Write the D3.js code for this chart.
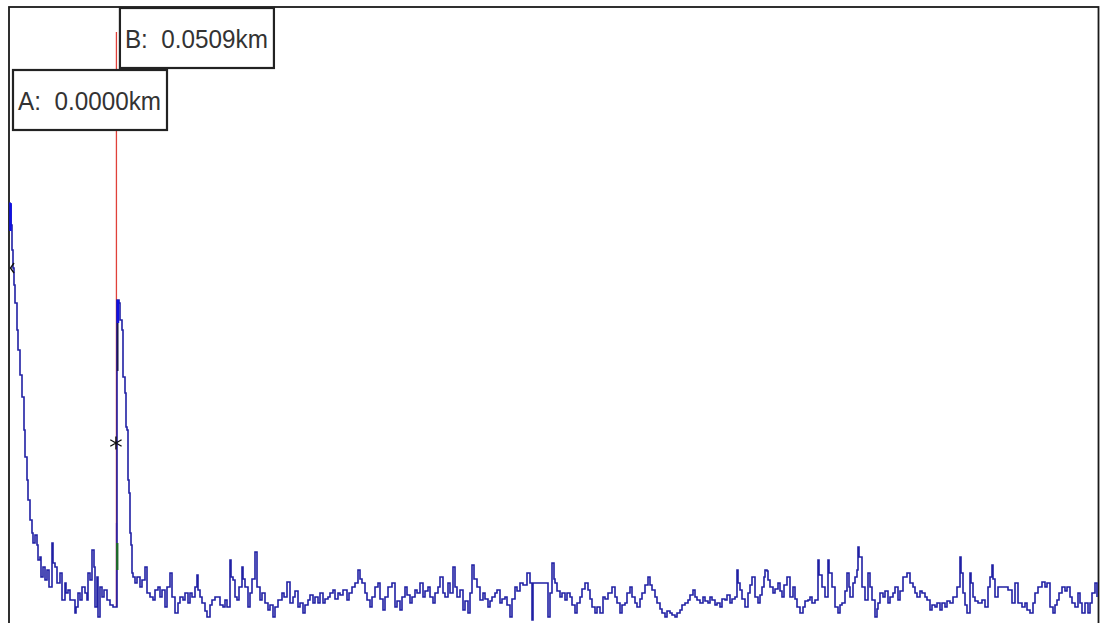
<!DOCTYPE html>
<html><head><meta charset="utf-8">
<script src="https://cdn.jsdelivr.net/npm/d3@7"></script>
<style>html,body{margin:0;padding:0;background:#fff;overflow:hidden;} svg{display:block;}</style>
</head><body>
<svg id="chart" width="1102" height="623"></svg>
<script>
// ---- data ----
const sampleResKm = 0.000476;            // km per trace sample
const cursorNames = ["A", "B"];
const cursorKm = [0.0000, 0.0509];
const cursorLabels = ["A:  0.0000km", "B:  0.0509km"];
const levelRangeDb = [0, 30.8];
// [sample index, level dB]
const traceSamples = [[0,21.0],[1,20.9],[2,19.9],[3,18.65],[4,17.75],[5,16.9],[6,16.0],[8,14.65],[9,13.65],[11,12.4],[13,11.3],[15,9.65],[16,8.3],[18,7.15],[19,6.15],[21,5.15],[23,4.5],[24,4.0],[26,4.4],[28,3.9],[29,3.15],[31,3.3],[32,2.3],[34,2.8],[36,2.15],[38,2.65],[40,1.8],[43,4.0],[44,3.0],[46,2.8],[48,2.0],[51,2.5],[53,1.15],[56,2.0],[57,1.5],[59,1.65],[61,1.15],[63,1.15],[66,0.5],[67,0.8],[69,1.5],[71,1.15],[73,1.8],[76,1.5],[78,1.15],[79,2.5],[81,2.15],[83,3.65],[85,2.8],[86,0.8],[88,2.3],[89,0.3],[91,1.8],[93,1.3],[95,1.65],[98,1.15],[101,0.9],[104,0.8],[106,0.8],[108,16.15],[110,16.0],[111,15.15],[113,14.65],[114,12.3],[116,11.5],[117,9.8],[118,9.65],[119,7.15],[120,6.5],[121,4.5],[122,3.9],[123,2.5],[124,2.3],[126,2.0],[128,2.3],[131,1.8],[133,2.15],[136,2.8],[138,1.5],[141,1.3],[144,1.15],[146,1.65],[149,1.8],[151,1.3],[153,1.65],[156,0.8],[158,1.8],[161,2.5],[163,1.3],[166,0.5],[169,1.0],[171,1.3],[174,1.15],[176,1.5],[179,1.0],[181,1.5],[183,1.3],[186,1.8],[188,2.4],[189,1.65],[191,1.3],[193,1.0],[196,0.6],[198,0.3],[201,0.9],[203,1.15],[206,1.3],[209,1.3],[211,0.9],[214,0.8],[216,1.15],[218,0.8],[221,3.15],[222,2.3],[224,2.15],[226,1.3],[228,1.15],[230,1.8],[233,2.8],[234,2.2],[236,1.8],[239,0.8],[241,1.5],[243,2.2],[246,3.55],[248,1.8],[251,1.15],[253,1.5],[256,1.0],[259,0.65],[261,0.9],[264,0.3],[266,0.8],[269,1.15],[273,1.5],[275,1.3],[278,2.05],[281,1.0],[284,1.3],[286,1.6],[289,0.8],[291,1.0],[294,0.5],[296,0.9],[299,1.15],[301,1.4],[304,1.0],[306,1.3],[309,1.0],[311,1.5],[314,1.0],[316,1.2],[319,1.3],[321,1.5],[324,1.65],[326,1.2],[329,1.5],[331,1.4],[334,1.65],[338,1.15],[340,1.5],[343,1.8],[346,2.0],[349,2.65],[351,2.2],[353,2.0],[356,1.5],[358,1.15],[361,0.8],[363,1.3],[366,1.8],[369,2.0],[371,1.2],[374,0.65],[376,1.3],[379,1.8],[383,2.0],[386,0.8],[388,1.1],[391,0.65],[393,1.3],[396,1.8],[398,1.4],[401,1.0],[403,1.3],[406,1.65],[408,1.5],[411,2.0],[414,1.3],[416,1.6],[419,1.8],[421,1.3],[424,1.0],[426,1.5],[429,1.8],[431,2.3],[434,1.5],[436,1.3],[439,2.0],[441,1.5],[444,2.8],[446,1.8],[448,1.3],[451,1.65],[454,0.65],[456,1.1],[459,0.5],[461,1.5],[463,2.9],[465,2.2],[468,1.8],[471,1.15],[474,1.5],[476,1.2],[479,0.8],[481,1.1],[483,1.3],[486,1.5],[488,1.65],[491,1.0],[493,1.2],[496,1.3],[498,0.9],[501,0.3],[503,1.2],[506,1.8],[508,1.6],[511,2.0],[514,1.9],[518,2.5],[521,2.0],[523,0.15],[524,2.0],[538,2.0],[539,0.3],[541,1.5],[543,3.0],[545,2.2],[546,2.0],[548,1.6],[551,1.3],[553,1.5],[556,1.15],[558,1.5],[561,1.3],[563,0.9],[566,0.5],[568,1.0],[571,1.3],[573,1.7],[576,2.0],[579,1.65],[581,1.2],[583,0.8],[586,0.5],[588,0.8],[591,0.5],[594,1.3],[596,1.2],[599,1.5],[603,1.8],[606,1.3],[608,1.0],[611,0.5],[613,0.9],[616,1.0],[618,1.5],[621,1.8],[623,1.3],[626,1.0],[628,0.8],[631,1.2],[633,1.5],[636,1.9],[639,2.3],[641,1.9],[643,1.65],[646,1.3],[648,1.0],[651,0.7],[653,0.5],[656,0.3],[658,0.6],[661,0.5],[663,0.4],[666,0.3],[668,0.5],[671,0.65],[673,0.9],[676,1.0],[679,1.15],[681,1.4],[684,1.65],[686,1.3],[688,1.15],[691,1.0],[694,1.3],[696,1.1],[699,1.0],[701,1.3],[703,1.15],[706,0.9],[708,1.0],[711,0.8],[713,1.2],[716,1.15],[718,1.4],[721,1.0],[723,1.2],[726,1.3],[728,2.65],[729,2.0],[731,1.65],[733,1.2],[736,0.8],[739,1.5],[741,1.9],[743,2.3],[746,1.3],[749,1.0],[751,1.4],[753,1.8],[755,2.3],[756,2.65],[758,2.6],[759,2.15],[761,1.8],[764,1.5],[766,1.7],[769,2.0],[771,1.6],[773,1.3],[775,1.9],[778,2.3],[781,1.3],[784,1.8],[786,1.2],[788,0.8],[791,0.5],[794,0.8],[796,1.1],[799,1.15],[801,1.3],[803,1.0],[806,1.15],[809,3.15],[810,2.4],[813,1.8],[816,1.3],[819,3.15],[820,2.5],[823,1.8],[826,0.8],[829,0.5],[831,0.9],[833,1.0],[836,1.6],[838,2.5],[840,1.8],[841,1.3],[844,2.0],[846,2.3],[848,2.65],[849,3.8],[850,3.3],[853,1.8],[856,1.15],[859,2.5],[861,1.8],[863,1.15],[866,0.3],[868,0.7],[869,1.0],[871,1.5],[874,1.3],[876,1.6],[879,1.0],[881,1.3],[884,1.5],[886,1.8],[889,1.15],[891,1.6],[894,2.3],[898,2.5],[901,2.0],[904,1.8],[906,1.5],[908,1.3],[911,1.6],[913,1.5],[916,1.3],[918,1.15],[921,0.65],[923,0.9],[926,0.8],[928,1.0],[931,0.65],[933,1.0],[936,0.8],[938,1.1],[941,1.0],[944,1.3],[948,1.8],[951,3.3],[952,2.5],[954,1.5],[956,0.9],[958,0.5],[961,2.5],[962,2.0],[964,1.3],[966,1.1],[969,1.0],[973,1.15],[976,0.8],[979,1.8],[981,2.3],[983,2.9],[984,2.2],[986,1.3],[989,1.8],[993,1.8],[996,1.8],[999,1.65],[1003,1.0],[1006,2.0],[1009,1.0],[1013,0.8],[1016,1.0],[1018,0.65],[1021,0.5],[1024,1.0],[1026,1.5],[1029,1.8],[1033,2.05],[1036,1.8],[1038,2.0],[1041,0.8],[1044,0.5],[1046,0.9],[1048,1.15],[1050,1.5],[1053,1.8],[1056,1.6],[1058,1.8],[1061,1.3],[1063,1.0],[1066,0.8],[1069,1.5],[1071,1.0],[1073,0.5],[1076,1.0],[1079,0.5],[1081,1.0],[1083,1.5],[1086,2.0],[1088,1.3]];
// marker levels (dB)
const markerALevelDb = 17.75;
const markerBLevelDb = 9.0;

// ---- drawing ----
const svg = d3.select("#chart");
const frame = {left: 9, top: 7, right: 1098.5};
const lastIdx = traceSamples[traceSamples.length - 1][0];
const x = d3.scaleLinear().domain([0, lastIdx * sampleResKm]).range([9, 1097]);
const y = d3.scaleLinear().domain(levelRangeDb).range([623, 7]);

// frame
svg.append("rect")
  .attr("x", frame.left).attr("y", frame.top)
  .attr("width", frame.right - frame.left).attr("height", 700)
  .attr("fill", "#fff").attr("stroke", "#1a1a1a").attr("stroke-width", 1.8);

const xB = x(cursorKm[1]);
const xA = x(cursorKm[0]);
const idxB = Math.round(cursorKm[1] / sampleResKm);
const baseB = traceSamples.filter(d => d[0] <= idxB).slice(-1)[0][1];

// cursor B red line
svg.append("line")
  .attr("x1", xB + 0.5).attr("x2", xB + 0.5)
  .attr("y1", 32).attr("y2", y(5.0))
  .attr("stroke", "#e0403a").attr("stroke-width", 1.3);
svg.append("line")
  .attr("x1", xB + 0.5).attr("x2", xB + 0.5)
  .attr("y1", y(5.0)).attr("y2", y(baseB))
  .attr("stroke", "#a0307a").attr("stroke-width", 1.5);

// trace
const line = d3.line()
  .x(d => x(d[0] * sampleResKm))
  .y(d => y(d[1]))
  .curve(d3.curveStepAfter);
svg.append("path")
  .datum(traceSamples)
  .attr("d", line)
  .attr("fill", "none")
  .attr("stroke", "#2020a4")
  .attr("stroke-width", 1.6)
  .attr("stroke-linejoin", "miter");

// event highlight segments at B
svg.append("line")
  .attr("x1", xB + 1.3).attr("x2", xB + 1.3)
  .attr("y1", y(4.0)).attr("y2", y(2.65))
  .attr("stroke", "#1e6a2a").attr("stroke-width", 2.4);
svg.append("line")
  .attr("x1", xB + 1.8).attr("x2", xB + 1.8)
  .attr("y1", y(15.0)).attr("y2", y(12.6))
  .attr("stroke", "#1a1a50").attr("stroke-width", 1.6);
svg.append("line")
  .attr("x1", xB + 2).attr("x2", xB + 2)
  .attr("y1", y(16.15)).attr("y2", y(15.0))
  .attr("stroke", "#1010e0").attr("stroke-width", 2.6);
svg.append("line")
  .attr("x1", xA + 1.5).attr("x2", xA + 1.5)
  .attr("y1", y(21.0)).attr("y2", y(19.6))
  .attr("stroke", "#1010e0").attr("stroke-width", 2.6);

// asterisk marker on B
svg.append("path")
  .attr("transform", `translate(${xB},${y(markerBLevelDb)})`)
  .attr("d", d3.symbol(d3.symbolAsterisk, 120)())
  .attr("fill", "none").attr("stroke", "#111").attr("stroke-width", 1.4);

// "<" marker on A
const ya = y(markerALevelDb);
const p = d3.path();
p.moveTo(xA + 5, ya - 5); p.lineTo(xA + 1.5, ya); p.lineTo(xA + 5, ya + 5);
svg.append("path").attr("d", p.toString())
  .attr("fill", "none").attr("stroke", "#111").attr("stroke-width", 1.4);

// cursor label boxes
const boxes = [
  {name: cursorNames[0], text: cursorLabels[0], bx: xA + 4, by: 70},
  {name: cursorNames[1], text: cursorLabels[1], bx: xB + 4, by: 8}
];
const g = svg.selectAll("g.lbl").data(boxes).join("g").attr("class", "lbl");
g.append("rect")
  .attr("x", d => d.bx).attr("y", d => d.by)
  .attr("width", 154).attr("height", 60)
  .attr("fill", "#fff").attr("stroke", "#222").attr("stroke-width", 2.2);
g.append("text")
  .attr("x", d => d.bx + 5).attr("y", d => d.by + 40)
  .attr("font-family", "'Liberation Sans', Arial, sans-serif")
  .attr("font-size", 25)
  .attr("fill", "#333")
  .attr("textLength", 143)
  .attr("lengthAdjust", "spacingAndGlyphs")
  .attr("xml:space", "preserve")
  .style("white-space", "pre")
  .text(d => d.text);
</script>
</body></html>
